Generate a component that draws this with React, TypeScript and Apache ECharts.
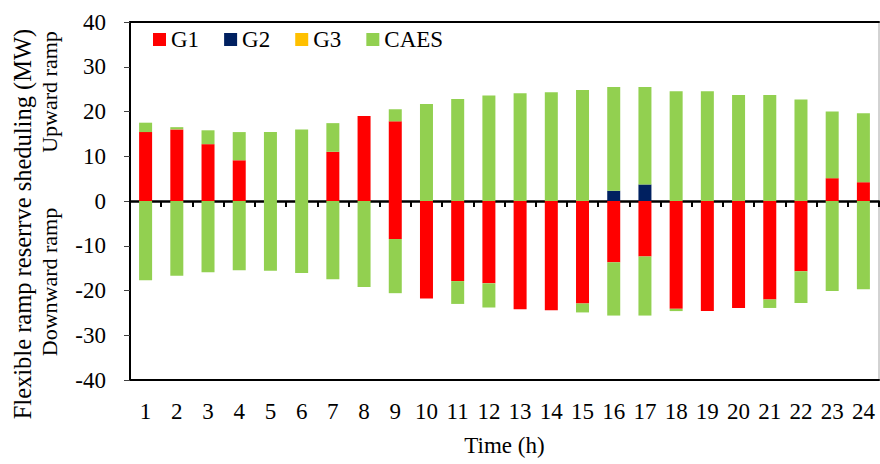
import React, { useEffect, useRef } from "react";
import * as echarts from "echarts";

const hours = ["1","2","3","4","5","6","7","8","9","10","11","12","13","14","15","16","17","18","19","20","21","22","23","24"];

const g1Up = [15.4, 16.0, 12.7, 9.1, 0, 0, 11.0, 19.0, 17.8, 0, 0, 0, 0, 0, 0, 0, 0, 0, 0, 0, 0, 0, 5.1, 4.2];
const g2Up = [0, 0, 0, 0, 0, 0, 0, 0, 0, 0, 0, 0, 0, 0, 0, 2.3, 3.7, 0, 0, 0, 0, 0, 0, 0];
const g3Up = [0, 0, 0, 0, 0, 0, 0, 0, 0, 0, 0, 0, 0, 0, 0, 0, 0, 0, 0, 0, 0, 0, 0, 0];
const caesUp = [2.1, 0.5, 3.1, 6.3, 15.4, 16.0, 6.4, 0, 2.7, 21.7, 22.8, 23.6, 24.1, 24.3, 24.8, 23.2, 21.8, 24.5, 24.5, 23.7, 23.7, 22.7, 14.9, 15.4];

const g1Down = [0, 0, 0, 0, 0, 0, 0, 0, -8.5, -21.8, -17.9, -18.4, -24.2, -24.4, -22.9, -13.7, -12.4, -24.1, -24.6, -23.9, -22.0, -15.7, 0, 0];
const g2Down = [0, 0, 0, 0, 0, 0, 0, 0, 0, 0, 0, 0, 0, 0, 0, 0, 0, 0, 0, 0, 0, 0, 0, 0];
const g3Down = [0, 0, 0, 0, 0, 0, 0, 0, 0, 0, 0, 0, 0, 0, 0, 0, 0, 0, 0, 0, 0, 0, 0, 0];
const caesDown = [-17.7, -16.7, -15.9, -15.5, -15.6, -16.1, -17.5, -19.2, -12.1, 0, -5.1, -5.4, 0, 0, -2.0, -11.9, -13.2, -0.5, 0, 0, -1.9, -7.1, -20.1, -19.7];

const yTicks = [-40, -30, -20, -10, 0, 10, 20, 30, 40];

const seriesNames = ["G1", "G2", "G3", "CAES"];
const colors = ["#FF0000", "#002060", "#FFC000", "#92D050"];

const FONT = "Liberation Serif";

export default function App() {
  const ref = useRef<HTMLDivElement>(null);
  useEffect(() => {
    if (!ref.current) return;
    const chart = echarts.init(ref.current, null, { renderer: "svg" });
    const upData = [g1Up, g2Up, g3Up, caesUp];
    const downData = [g1Down, g2Down, g3Down, caesDown];
    const series: any[] = [];
    seriesNames.forEach((n, i) => {
      series.push({
        name: n,
        type: "bar",
        stack: "total",
        xAxisIndex: 0,
        yAxisIndex: 0,
        barWidth: 13,
        itemStyle: { color: colors[i] },
        data: upData[i],
      });
    });
    seriesNames.forEach((n, i) => {
      series.push({
        name: n,
        type: "bar",
        stack: "total",
        xAxisIndex: 0,
        yAxisIndex: 0,
        barWidth: 13,
        itemStyle: { color: colors[i] },
        data: downData[i],
      });
    });

    chart.setOption({
      animation: false,
      textStyle: { fontFamily: FONT },
      legend: {
        data: seriesNames,
        top: 23,
        left: 148,
        itemWidth: 13,
        itemHeight: 13,
        itemGap: 25,
        icon: "rect",
        textStyle: { fontSize: 23, color: "#000", fontFamily: FONT },
      },
      grid: {
        left: 130,
        right: 1,
        top: 22,
        bottom: 84,
        show: true,
        borderColor: "#a6a6a6",
        borderWidth: 1,
      },
      xAxis: [
        {
          type: "category",
          data: hours,
          position: "bottom",
          axisLine: { onZero: false, lineStyle: { color: "#000", width: 2 } },
          axisTick: { show: false },
          axisLabel: { fontSize: 23, color: "#000", margin: 20, fontFamily: FONT },
          name: "Time (h)",
          nameLocation: "middle",
          nameGap: 54,
          nameTextStyle: { fontSize: 23, color: "#000", fontFamily: FONT },
        },
        {
          type: "category",
          data: hours,
          position: "bottom",
          axisLine: { onZero: true, lineStyle: { color: "#000", width: 2.5 } },
          axisTick: { show: true, length: 6, lineStyle: { color: "#000", width: 2 } },
          axisLabel: { show: false },
        },
        {
          type: "category",
          data: hours,
          position: "top",
          axisLine: { onZero: false, lineStyle: { color: "#000", width: 2 } },
          axisTick: { show: false },
          axisLabel: { show: false },
        },
      ],
      yAxis: {
        type: "value",
        min: yTicks[0],
        max: yTicks[yTicks.length - 1],
        interval: 10,
        axisLine: { show: true, lineStyle: { color: "#000", width: 2 } },
        axisTick: { show: true, length: 6, lineStyle: { color: "#404040", width: 1 } },
        axisLabel: { fontSize: 23, color: "#000", margin: 24, fontFamily: FONT },
        splitLine: { show: false },
      },
      graphic: [
        {
          type: "text",
          x: 22,
          y: 224,
          rotation: Math.PI / 2,
          style: {
            text: "Flexible ramp reserrve sheduling (MW)",
            fontSize: 24.5,
            fontFamily: FONT,
            fill: "#000",
            textAlign: "center",
            textVerticalAlign: "middle",
          },
        },
        {
          type: "text",
          x: 49,
          y: 92,
          rotation: Math.PI / 2,
          style: {
            text: "Upward ramp",
            fontSize: 22,
            fontFamily: FONT,
            fill: "#000",
            textAlign: "center",
            textVerticalAlign: "middle",
          },
        },
        {
          type: "text",
          x: 49,
          y: 282,
          rotation: Math.PI / 2,
          style: {
            text: "Downward ramp",
            fontSize: 22,
            fontFamily: FONT,
            fill: "#000",
            textAlign: "center",
            textVerticalAlign: "middle",
          },
        },
      ],
      series,
    });
    return () => chart.dispose();
  }, []);
  return <div ref={ref} style={{ width: 880, height: 464, position: "absolute", left: 0, top: 0 }} />;
}
